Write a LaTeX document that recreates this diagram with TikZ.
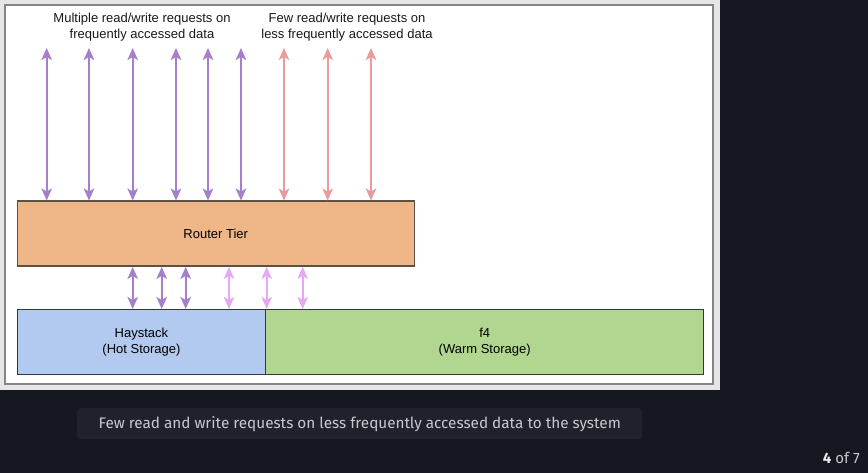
\documentclass[tikz,border=0pt]{standalone}
\usepackage{fontspec}
\setmainfont{Liberation Sans}
\newfontfamily\capfont{Fira Sans}
\usetikzlibrary{arrows.meta}
\definecolor{bgdark}{HTML}{161821}
\definecolor{capbox}{HTML}{1F212B}
\definecolor{panelgray}{HTML}{E6E6E6}
\definecolor{panelborder}{HTML}{858585}
\definecolor{purp}{HTML}{A47FCB}
\definecolor{pinkr}{HTML}{EA9B9B}
\definecolor{violetl}{HTML}{E6A8F5}
\definecolor{peach}{HTML}{EFB688}
\definecolor{peachborder}{HTML}{5E5043}
\definecolor{hotblue}{HTML}{B3CAF0}
\definecolor{warmgreen}{HTML}{B0D690}
\definecolor{boxborder}{HTML}{2E3A33}
\definecolor{captext}{HTML}{C8C9CE}
\tikzset{
  tier/.style={draw=peachborder, line width=1.4pt, fill=peach, minimum width=397pt, minimum height=65pt, inner sep=0pt, font=\fontsize{13}{15}\selectfont},
  store/.style={draw=boxborder, line width=1.4pt, minimum height=65pt, inner sep=0pt, align=center, font=\fontsize{13}{15.5}\selectfont},
  biarrow/.style={line width=1.9pt, {Stealth[length=12pt,width=10.5pt,inset=3pt]}-{Stealth[length=12pt,width=10.5pt,inset=3pt]}},
  toplabel/.style={align=center, font=\fontsize{13}{16}\selectfont, text=black!90},
}
\begin{document}
\begin{tikzpicture}[x=1pt,y=-1pt]
\useasboundingbox (0,0) rectangle (868,473);
\fill[bgdark] (0,0) rectangle (868,473);
\fill[panelgray] (0,0) rectangle (720,390);
\draw[panelborder, line width=1.6pt, fill=white] (5,5) rectangle (713,384);

\node[toplabel] (lbl1) at (142,27) {Multiple read/write requests on\\frequently accessed data};
\node[toplabel] (lbl2) at (347,27) {Few read/write requests on\\less frequently accessed data};

\node[tier, anchor=north west] (router) at (16.5,200.5) {Router Tier};
\node[store, fill=hotblue, minimum width=248.5pt, anchor=north west] (hay) at (16.5,309) {Haystack\\(Hot Storage)};
\node[store, fill=warmgreen, minimum width=438pt, anchor=north west] (f4) at (265,309) {f4\\(Warm Storage)};

% top coordinates
\foreach \i/\x in {1/46.7,2/89,3/132.7,4/176,5/208,6/241,7/284,8/327.7,9/371}{
  \coordinate (t\i) at (\x,48);
}
\foreach \i in {1,...,6}{
  \draw[biarrow, purp] (t\i) -- (t\i |- router.north);
}
\foreach \i in {7,8,9}{
  \draw[biarrow, pinkr] (t\i) -- (t\i |- router.north);
}

% bottom arrows
\foreach \x in {132.7,161.7,185.7}{
  \draw[biarrow, purp] (router.south -| {(\x,0)}) -- (hay.north -| {(\x,0)});
}
\draw[biarrow, violetl] (router.south -| {(229,0)}) -- (hay.north -| {(229,0)});
\draw[biarrow, violetl] (router.south -| {(266.7,0)}) -- (f4.north -| {(266.7,0)});
\draw[biarrow, violetl] (router.south -| {(302.7,0)}) -- (f4.north -| {(302.7,0)});

% caption
\node[fill=capbox, rounded corners=4pt, minimum width=565pt, minimum height=31pt, anchor=north west, inner sep=0pt,
      text=captext, font=\capfont\fontsize{15.3}{18}\selectfont] (caption) at (77,408)
  {Few read and write requests on less frequently accessed data to the system};
\node[anchor=east, inner sep=0pt, font=\capfont\fontsize{15}{17}\selectfont] (pager) at (860,458)
  {\textcolor{white!92!black}{\bfseries 4} \textcolor{captext}{of 7}};
\end{tikzpicture}
\end{document}
